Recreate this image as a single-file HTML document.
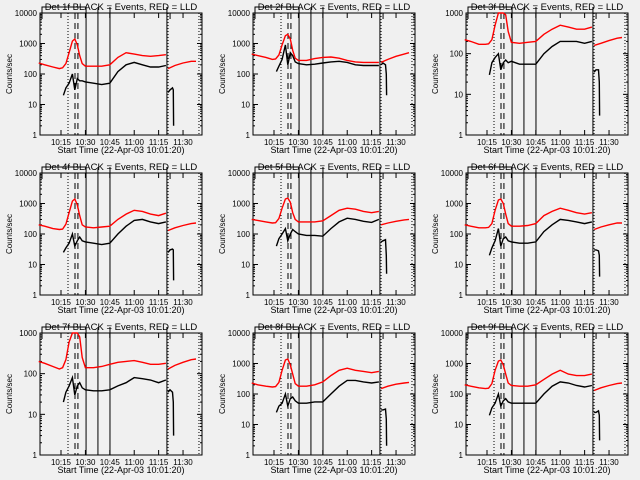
<!DOCTYPE html>
<html><head><meta charset="utf-8"><style>
html,body{margin:0;padding:0;background:#f0f0f0;}
svg{display:block;}
text{font-family:"Liberation Sans",sans-serif;fill:#000;}
</style></head>
<body>
<svg id="c" width="640" height="480" xmlns="http://www.w3.org/2000/svg"></svg>
<script>
// time in minutes since 10:00
const redTimes = [1.3,5,10,14,16,18,20,22,23.5,25,26.5,28,30,35,40,45,50,55,60,65,70,75,79.5];
const redTimes2 = [80.8,85,90,95,98];
const blackTimes = [16.5,18,20,22,23.5,25,26.5,28,30,35,40,45,50,55,60,65,70,75,79.5];
const blackTimes2 = [80.8,82,83.5,84,84.2];
const tickTimes = [15,30,45,60,75,90];
const tickLabels = ["10:15","10:30","10:45","11:00","11:15","11:30"];
const detNames = ["1f","2f","3f","4f","5f","6f","7f","8f","9f"];
const yMaxDecade = [4,4,3,4,4,4,3,4,4];
const red = [
[230,200,170,150,160,220,500,1200,1400,900,400,220,180,180,180,200,350,500,450,400,380,400,430],
[450,400,350,300,310,420,900,1800,2000,1400,600,330,280,280,320,350,360,330,280,250,240,240,240],
[220,200,170,170,175,220,500,1100,1400,1400,900,350,190,180,190,200,300,400,500,450,400,400,450],
[200,180,150,140,145,210,500,1200,1400,900,400,200,170,160,170,180,300,450,600,550,450,400,480],
[300,280,250,230,235,320,700,1400,1500,1100,500,300,250,250,250,270,400,600,700,650,550,500,550],
[200,180,160,160,165,220,600,1300,1400,1000,450,220,180,180,190,220,400,550,700,600,500,450,500],
[200,180,150,130,140,220,600,1300,1400,1400,800,250,140,140,150,170,190,200,210,190,170,170,180],
[230,200,180,170,175,240,600,1300,1400,900,450,220,180,180,200,250,400,600,700,600,550,500,550],
[200,180,160,150,155,220,600,1200,1300,900,450,230,190,180,180,200,300,450,600,450,400,400,450]];
const red2 = [
[150,190,230,260,260],[240,300,380,450,500],[160,180,210,240,250],
[130,160,190,220,230],[200,230,260,290,300],[140,170,200,230,230],
[130,160,190,220,230],[150,180,210,230,240],[130,160,190,220,230]];
const black = [
[20,35,50,100,30,70,60,60,55,50,45,50,120,200,240,200,170,170,190],
[120,180,300,900,200,500,400,250,220,200,210,230,250,260,240,200,190,190,190],
[30,60,80,100,40,60,70,60,65,55,55,55,100,150,200,200,200,180,200],
[25,35,50,100,40,60,80,60,55,50,45,50,100,180,280,300,250,220,250],
[40,70,100,150,60,100,140,120,100,90,90,85,150,250,330,300,260,240,300],
[20,35,60,150,40,70,80,60,55,50,50,55,120,200,300,280,250,220,250],
[20,35,50,80,30,50,60,45,40,38,38,40,50,60,80,75,70,60,70],
[25,40,50,100,40,70,80,60,50,50,55,55,100,180,280,280,250,230,250],
[20,35,50,100,40,60,70,55,50,50,50,50,100,180,250,230,190,170,190]];
const black2 = [
[25,30,35,30,2],[200,230,200,100,20],[35,40,40,20,3],
[25,30,32,30,3],[55,60,65,20,5],[30,30,28,20,4],
[35,40,35,20,3],[30,30,32,15,2],[25,25,28,20,3]];
const solidTimes = [30.4,37.7,45.1,80.1];
const dottedTimes = [19.3,80.8,99.8];
const dashedTimes = [23.6,25.4];

const svg = document.getElementById('c');
const NS = "http://www.w3.org/2000/svg";
function mk(tag, attrs, parent){const e=document.createElementNS(NS,tag);for(const k in attrs)e.setAttribute(k,attrs[k]);(parent||svg).appendChild(e);return e;}
const X0=40,X1=202,Y0=13,Y1=135;
const xs = t => 36.6 + 1.627*t;

for(let p=0;p<9;p++){
  const ox=(p%3)*213, oy=Math.floor(p/3)*160;
  const g = mk('g',{transform:`translate(${ox},${oy})`});
  
  
  const dmax=yMaxDecade[p];
  const ys = v => Y1 - (Math.log10(Math.max(v,1)))/dmax*(Y1-Y0);
  const ti = mk('text',{x:121,y:10,'font-size':'9.5','text-anchor':'middle'},g);
  ti.textContent = `Det ${detNames[p]} BLACK = Events, RED = LLD`;
  
  
  const fr = mk('rect',{x:X0,y:Y0,width:X1-X0,height:Y1-Y0,fill:'none',stroke:'#000','stroke-width':1},g);
  
  
  for(let d=0;d<=dmax;d++){
    const y=ys(Math.pow(10,d));
    mk('line',{x1:X0,x2:X0+5,y1:y,y2:y,stroke:'#000'},g);
    mk('line',{x1:X1,x2:X1-5,y1:y,y2:y,stroke:'#000'},g);
    const tl=mk('text',{x:37,y:y+3,'font-size':'8','text-anchor':'end'},g);
    tl.textContent=String(Math.pow(10,d));
    
    
    if(d<dmax){for(let m=2;m<10;m++){const ym=ys(m*Math.pow(10,d));
      mk('line',{x1:X0,x2:X0+2,y1:ym,y2:ym,stroke:'#000'},g);
      mk('line',{x1:X1,x2:X1-2,y1:ym,y2:ym,stroke:'#000'},g);}}
  }
  tickTimes.forEach((t,i)=>{
    const x=xs(t);
    mk('line',{x1:x,x2:x,y1:Y1,y2:Y1-5,stroke:'#000'},g);
    mk('line',{x1:x,x2:x,y1:Y0,y2:Y0+5,stroke:'#000'},g);
    const tl=mk('text',{x:x,y:145,'font-size':'8','text-anchor':'middle'},g);
    tl.textContent=tickLabels[i];
    
    
  });
  const xl=mk('text',{x:121,y:153,'font-size':'9','text-anchor':'middle'},g);
  xl.textContent='Start Time (22-Apr-03 10:01:20)';
  
  
  const yl=mk('text',{x:0,y:0,'font-size':'8','text-anchor':'middle',transform:'translate(12,74) rotate(-90)'},g);
  yl.textContent='Counts/sec';
  
  
  solidTimes.forEach(t=>{const x=xs(t);const l=mk('line',{x1:x,x2:x,y1:7,y2:Y1,stroke:'#000','stroke-width':1},g);
    
    });
  dottedTimes.forEach(t=>{const x=xs(t);const l=mk('line',{x1:x,x2:x,y1:Y0,y2:Y1,stroke:'#000','stroke-width':1,'stroke-dasharray':'1,2'},g);
    
    });
  dashedTimes.forEach(t=>{const x=xs(t);const l=mk('line',{x1:x,x2:x,y1:Y0,y2:Y1,stroke:'#000','stroke-width':1,'stroke-dasharray':'6,4'},g);
    
    });
  mk('path',{d:`M${X0+2},19 V13 H${X0+8} M${xs(80.8)+2},19 V13 H${xs(80.8)+8} M${X0+2},13 V7 H${xs(30.4)}`,fill:'none',stroke:'#000'},g);
  const pts=(ts,vs)=>ts.map((t,i)=>`${xs(t).toFixed(1)},${Math.max(Y0,ys(vs[i])).toFixed(1)}`).join(' ');
  const mkLine=(ts,vs,col,name)=>{const l=mk('polyline',{points:pts(ts,vs),fill:'none',stroke:col,'stroke-width':1.4},g);
    
    };
  mkLine(redTimes,red[p],'#ff0000','red-lld-series');
  mkLine(redTimes2,red2[p],'#ff0000','red-lld-series-late');
  mkLine(blackTimes,black[p],'#000','black-events-series');
  mkLine(blackTimes2,black2[p],'#000','black-events-series-late');
}
</script>
</body></html>
